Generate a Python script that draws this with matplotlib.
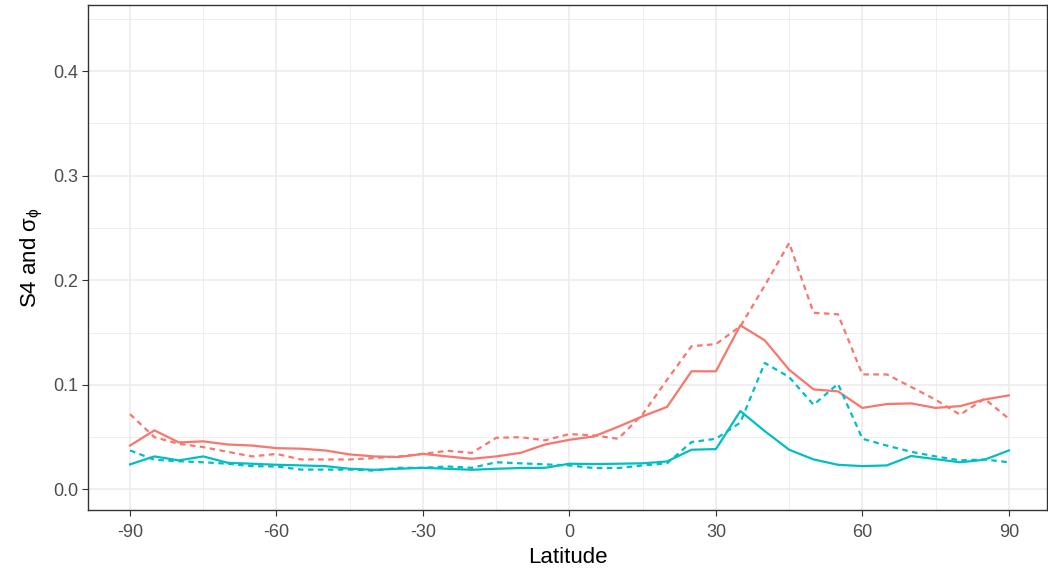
import numpy as np
import matplotlib.pyplot as plt
from matplotlib.ticker import MultipleLocator

plt.rcParams['font.family'] = ['Liberation Sans', 'DejaVu Sans']
plt.rcParams['mathtext.fontset'] = 'custom'
plt.rcParams['mathtext.rm'] = 'Liberation Sans'
plt.rcParams['mathtext.it'] = 'Liberation Sans'

# latitude grid, 5 degree steps
lat = list(range(-90, 95, 5))

# S4, solid red
s4_a = [0.042, 0.0565, 0.045, 0.046, 0.043, 0.042, 0.0395, 0.039, 0.0373, 0.0335, 0.0316, 0.031,
        0.034, 0.0316, 0.0293, 0.0316, 0.035, 0.043, 0.0475, 0.0507, 0.060, 0.070, 0.079,
        0.113, 0.113, 0.157, 0.1426, 0.1145, 0.0957, 0.0938, 0.078, 0.0817, 0.0823, 0.078,
        0.0797, 0.086, 0.090]
# S4, dashed red
s4_b = [0.072, 0.050, 0.0437, 0.0405, 0.036, 0.0316, 0.034, 0.0287, 0.0287, 0.0287, 0.030, 0.0316,
        0.034, 0.037, 0.035, 0.0494, 0.050, 0.047, 0.053, 0.0517, 0.0485, 0.072, 0.105,
        0.137, 0.139, 0.156, 0.195, 0.2357, 0.169, 0.1675, 0.110, 0.110, 0.098, 0.0858,
        0.0715, 0.0868, 0.0676]
# sigma_phi, solid teal
sp_a = [0.024, 0.0316, 0.0278, 0.0316, 0.0255, 0.0246, 0.0236, 0.023, 0.0223, 0.0198, 0.0188, 0.0198,
        0.0207, 0.0198, 0.0188, 0.0198, 0.0205, 0.0207, 0.0246, 0.0243, 0.0246, 0.025, 0.0268,
        0.038, 0.0386, 0.075, 0.0558, 0.038, 0.0287, 0.0236, 0.0223, 0.023, 0.032, 0.029,
        0.026, 0.0284, 0.0373]
# sigma_phi, dashed teal
sp_b = [0.0373, 0.0284, 0.027, 0.026, 0.0246, 0.0223, 0.022, 0.019, 0.019, 0.019, 0.018, 0.0207,
        0.0207, 0.022, 0.0207, 0.026, 0.025, 0.024, 0.023, 0.0205, 0.0205, 0.023, 0.025,
        0.0453, 0.0485, 0.064, 0.121, 0.1075, 0.081, 0.101, 0.0485, 0.042, 0.036, 0.0316,
        0.0278, 0.0287, 0.026]

red = '#F8766D'
teal = '#00BFC4'

fig = plt.figure(figsize=(10.48, 5.68), dpi=100)
ax = fig.add_axes([0.084, 0.102, 0.915, 0.889])

ax.plot(lat, s4_a, color=red, lw=1.6)
ax.plot(lat, s4_b, color=red, lw=1.6, ls=(0, (2.5, 2)))
ax.plot(lat, sp_a, color=teal, lw=1.6)
ax.plot(lat, sp_b, color=teal, lw=1.6, ls=(0, (2.5, 2)))

ax.set_xlim(-98.6, 97.8)
ax.set_ylim(-0.0197, 0.4632)
ax.xaxis.set_minor_locator(MultipleLocator(15))
ax.yaxis.set_major_locator(MultipleLocator(0.1))
ax.yaxis.set_minor_locator(MultipleLocator(0.05))
ax.set_xticks(range(-90, 91, 30))
ax.set_xticklabels([str(v) for v in range(-90, 91, 30)])
ax.yaxis.set_major_formatter(plt.FuncFormatter(lambda v, p: '%.1f' % v))

ax.grid(which='major', color='#EBEBEB', lw=1.1)
ax.grid(which='minor', color='#EBEBEB', lw=0.6)
ax.set_axisbelow(True)
for s in ax.spines.values():
    s.set_color('#333333')
    s.set_linewidth(1.0)
ax.tick_params(which='major', length=4, color='#333333', labelsize=13, labelcolor='#4D4D4D', pad=3)
ax.tick_params(axis='x', pad=6)
ax.tick_params(which='minor', length=0)

ax.set_xlabel('Latitude', fontsize=16, color='black', labelpad=4)
ax.set_ylabel(r'S4 and $\mathregular{\sigma_\phi}$', fontsize=16, color='black', labelpad=6)

fig.savefig('out.png', dpi=100)
